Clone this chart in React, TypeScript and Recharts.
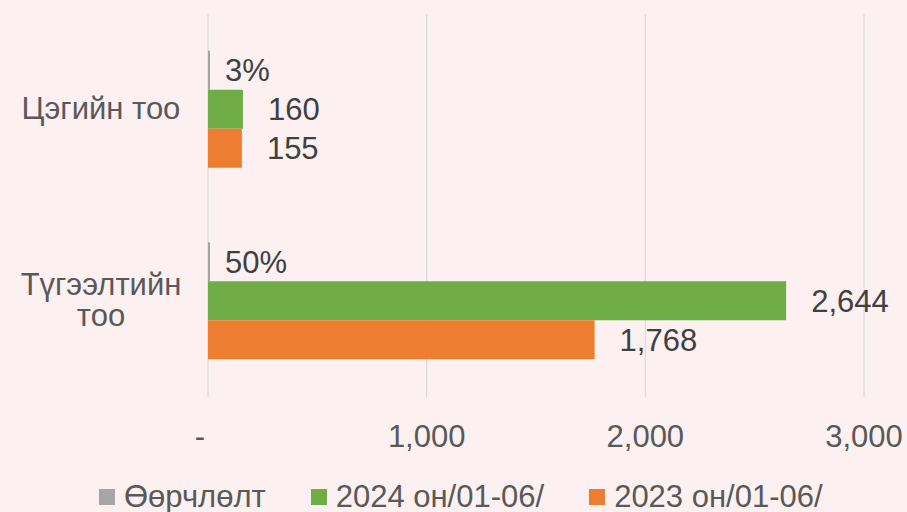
import React from 'react';
import { BarChart, Bar, XAxis, YAxis, CartesianGrid, Legend, LabelList } from 'recharts';

const categories = ['Цэгийн тоо', 'Түгээлтийн тоо'];
const categoryLines = [['Цэгийн тоо'], ['Түгээлтийн', 'тоо']];
const changeValues = [0.03, 0.5];
const values2024 = [160, 2644];
const values2023 = [155, 1768];
const xTicks = [0, 1000, 2000, 3000];
const xTickLabels = ['-', '1,000', '2,000', '3,000'];
const seriesNames = ['Өөрчлөлт', '2024 он/01-06/', '2023 он/01-06/'];

const data = categories.map((name, i) => ({
  name,
  change: changeValues[i],
  y2024: values2024[i],
  y2023: values2023[i],
}));

const FONT = '"Liberation Sans", Arial, sans-serif';
const TEXT = '#595959';
const LABEL = '#404040';

const YTick = (props: any) => {
  const { y, payload } = props;
  const idx = categories.indexOf(payload.value);
  const lines = categoryLines[idx] || [payload.value];
  const lh = 31;
  const start = y - ((lines.length - 1) * lh) / 2 + 9.5;
  return (
    <text x={101} y={start} textAnchor="middle" fill={TEXT} fontSize={31} fontFamily={FONT}>
      {lines.map((l: string, k: number) => (
        <tspan key={k} x={101} y={start + k * lh}>
          {l}
        </tspan>
      ))}
    </text>
  );
};

const XTick = (props: any) => {
  const { x, y, payload } = props;
  const idx = xTicks.indexOf(payload.value);
  const label = xTickLabels[idx];
  return (
    <text x={x} y={y + 50} dx={label === '-' ? -8 : 0} textAnchor="middle" fill={TEXT} fontSize={31} fontFamily={FONT}>
      {label}
    </text>
  );
};

const LegendContent = (props: any) => {
  const payload = [...(props.payload || [])].sort(
    (a: any, b: any) => seriesNames.indexOf(a.value) - seriesNames.indexOf(b.value)
  );
  return (
    <div
      style={{
        height: 30,
        display: 'flex',
        alignItems: 'center',
        paddingLeft: 99,
        fontFamily: FONT,
        fontSize: 31,
        lineHeight: '30px',
        color: TEXT,
        whiteSpace: 'nowrap',
      }}
    >
      {payload.map((p: any, i: number) => (
        <div key={i} style={{ display: 'flex', alignItems: 'center', marginRight: 45 }}>
          <span style={{ width: 16, height: 16, background: p.color, display: 'inline-block', marginRight: 9 }} />
          <span>{p.value}</span>
        </div>
      ))}
    </div>
  );
};

export default function App() {
  return (
    <div style={{ position: 'absolute', left: 0, top: 0, width: 907, height: 512, background: '#fcf0f0', overflow: 'hidden' }}>
      <BarChart
        width={907}
        height={512}
        data={data}
        layout="vertical"
        margin={{ top: 14, right: 43, left: 0, bottom: 0 }}
        barCategoryGap="19.2%"
        barGap={0}
      >
        <CartesianGrid horizontal={false} vertical={true} stroke="#d6d6d6" strokeWidth={1} />
        <XAxis
          type="number"
          domain={[0, 3000]}
          ticks={xTicks}
          axisLine={false}
          tickLine={false}
          tickSize={0}
          tickMargin={0}
          height={85}
          tick={<XTick />}
          interval={0}
        />
        <YAxis
          type="category"
          dataKey="name"
          width={208}
          axisLine={false}
          tickLine={false}
          tick={<YTick />}
          interval={0}
        />
        <Legend verticalAlign="bottom" content={<LegendContent />} />
        <Bar dataKey="change" name={seriesNames[0]} fill="#A5A5A5" minPointSize={2} isAnimationActive={false}>
          <LabelList
            dataKey="change"
            position="right"
            offset={15}
            fill={LABEL}
            fontSize={31}
            fontFamily={FONT}
            formatter={(v: any) => `${Math.round(Number(v) * 100)}%`}
          />
        </Bar>
        <Bar dataKey="y2024" name={seriesNames[1]} fill="#70AD47" isAnimationActive={false}>
          <LabelList
            dataKey="y2024"
            position="right"
            offset={25}
            fill={LABEL}
            fontSize={31}
            fontFamily={FONT}
            formatter={(v: any) => Number(v).toLocaleString('en-US')}
          />
        </Bar>
        <Bar dataKey="y2023" name={seriesNames[2]} fill="#ED7D31" isAnimationActive={false}>
          <LabelList
            dataKey="y2023"
            position="right"
            offset={25}
            fill={LABEL}
            fontSize={31}
            fontFamily={FONT}
            formatter={(v: any) => Number(v).toLocaleString('en-US')}
          />
        </Bar>
      </BarChart>
    </div>
  );
}
